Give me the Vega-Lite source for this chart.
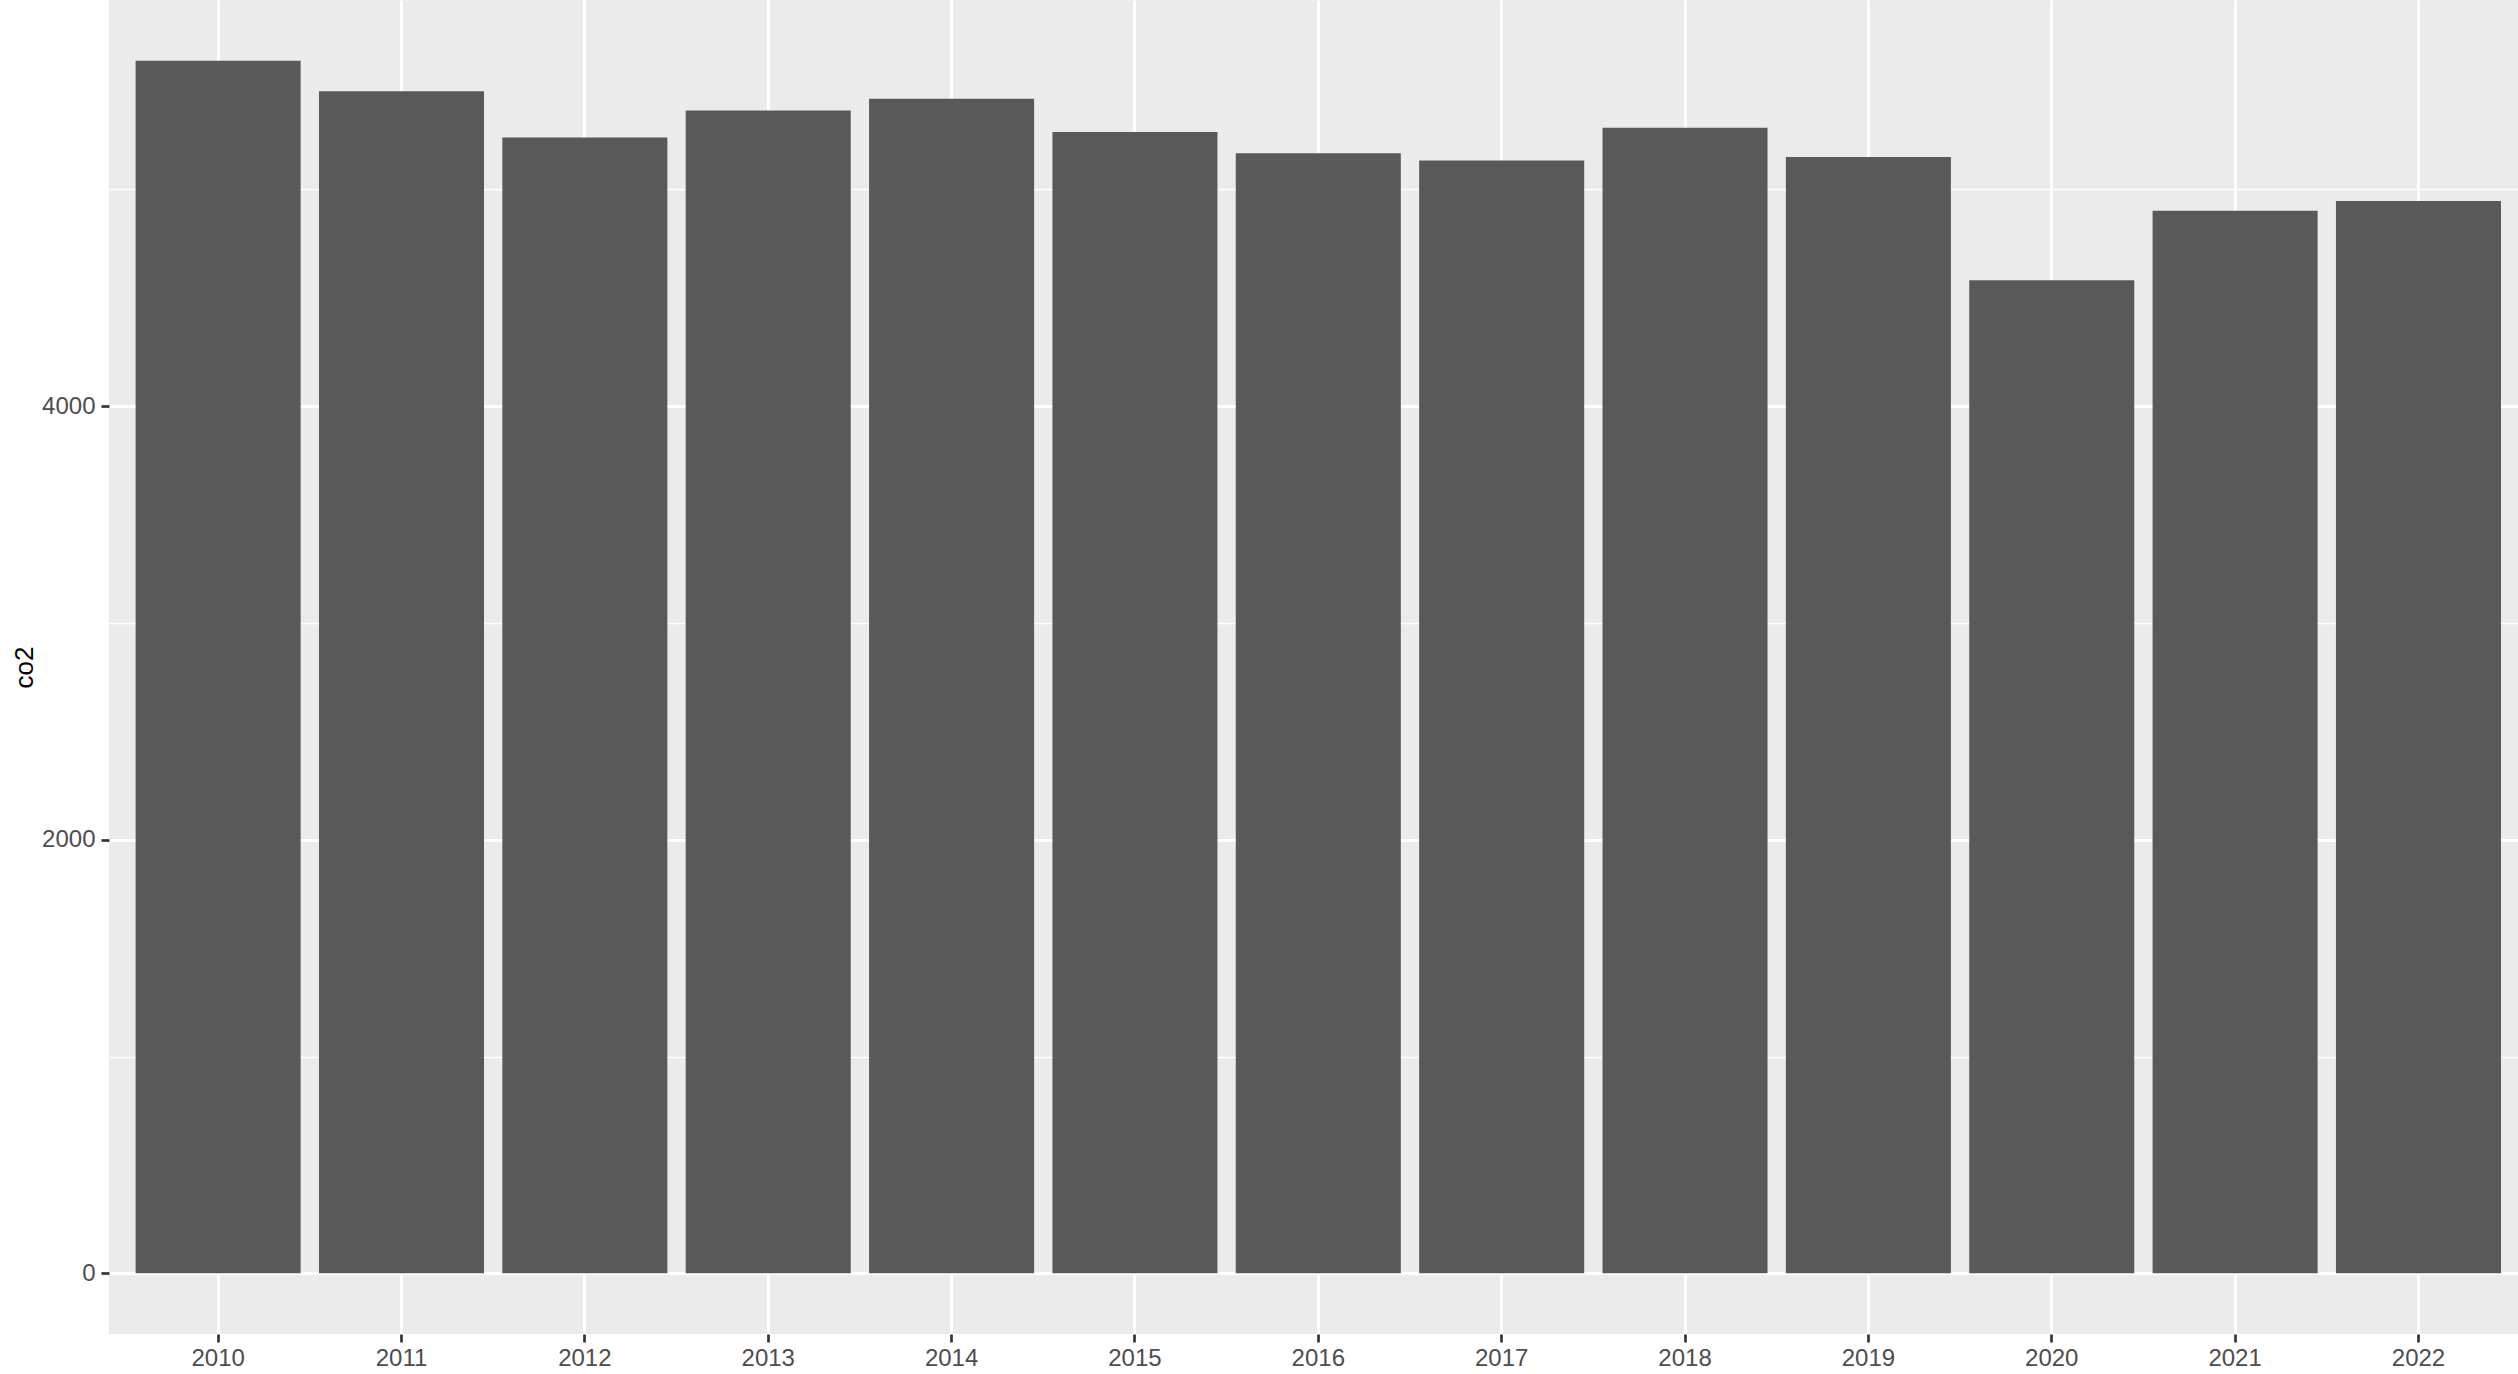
{
  "$schema": "https://vega.github.io/schema/vega-lite/v6.json",
  "width": 2409,
  "height": 1334,
  "autosize": {"type": "none"},
  "padding": {"left": 109, "top": 0, "right": 0, "bottom": 40},
  "background": "white",
  "config": {"font": "Liberation Sans", "view": {"fill": "#EBEBEB", "stroke": null}},
  "data": {
    "values": [
      {"year": "2010", "co2": 5594},
      {"year": "2011", "co2": 5453},
      {"year": "2012", "co2": 5240},
      {"year": "2013", "co2": 5364},
      {"year": "2014", "co2": 5418},
      {"year": "2015", "co2": 5265},
      {"year": "2016", "co2": 5167},
      {"year": "2017", "co2": 5133},
      {"year": "2018", "co2": 5284},
      {"year": "2019", "co2": 5150},
      {"year": "2020", "co2": 4581},
      {"year": "2021", "co2": 4902},
      {"year": "2022", "co2": 4947}
    ]
  },
  "layer": [
    {
      "mark": {"type": "rule", "opacity": 0},
      "encoding": {
        "y": {
          "field": "co2", "type": "quantitative",
          "scale": {"domain": [-279.7, 5873.7], "nice": false, "zero": false},
          "axis": {"orient": "right", "values": [1000, 3000, 5000], "grid": true, "gridColor": "white", "gridWidth": 1.5,
                   "labels": false, "ticks": false, "domain": false, "title": null}
        }
      }
    },
    {
      "mark": {"type": "bar", "color": "#595959"},
      "encoding": {
        "x": {
          "field": "year", "type": "ordinal",
          "scale": {"paddingInner": 0.1, "paddingOuter": 0.119, "align": 0.61},
          "axis": {"title": null, "labelAngle": 0, "labelFontSize": 24, "labelColor": "#4D4D4D", "labelPadding": 4,
                   "tickSize": 8, "tickWidth": 2.7, "tickColor": "#333333", "domain": false,
                   "grid": true, "gridColor": "white", "gridWidth": 3}
        },
        "y": {
          "field": "co2", "type": "quantitative",
          "scale": {"domain": [-279.7, 5873.7], "nice": false, "zero": false},
          "axis": {"values": [0, 2000, 4000], "format": "d", "grid": true, "gridColor": "white", "gridWidth": 3,
                   "labelFontSize": 24, "labelColor": "#4D4D4D", "labelPadding": 6,
                   "tickSize": 8, "tickWidth": 2.7, "tickColor": "#333333", "domain": false,
                   "title": "co2", "titleFontSize": 26, "titleFontWeight": "normal", "titleColor": "black", "titlePadding": 4}
        }
      }
    }
  ],
  "resolve": {"axis": {"y": "independent"}}
}
